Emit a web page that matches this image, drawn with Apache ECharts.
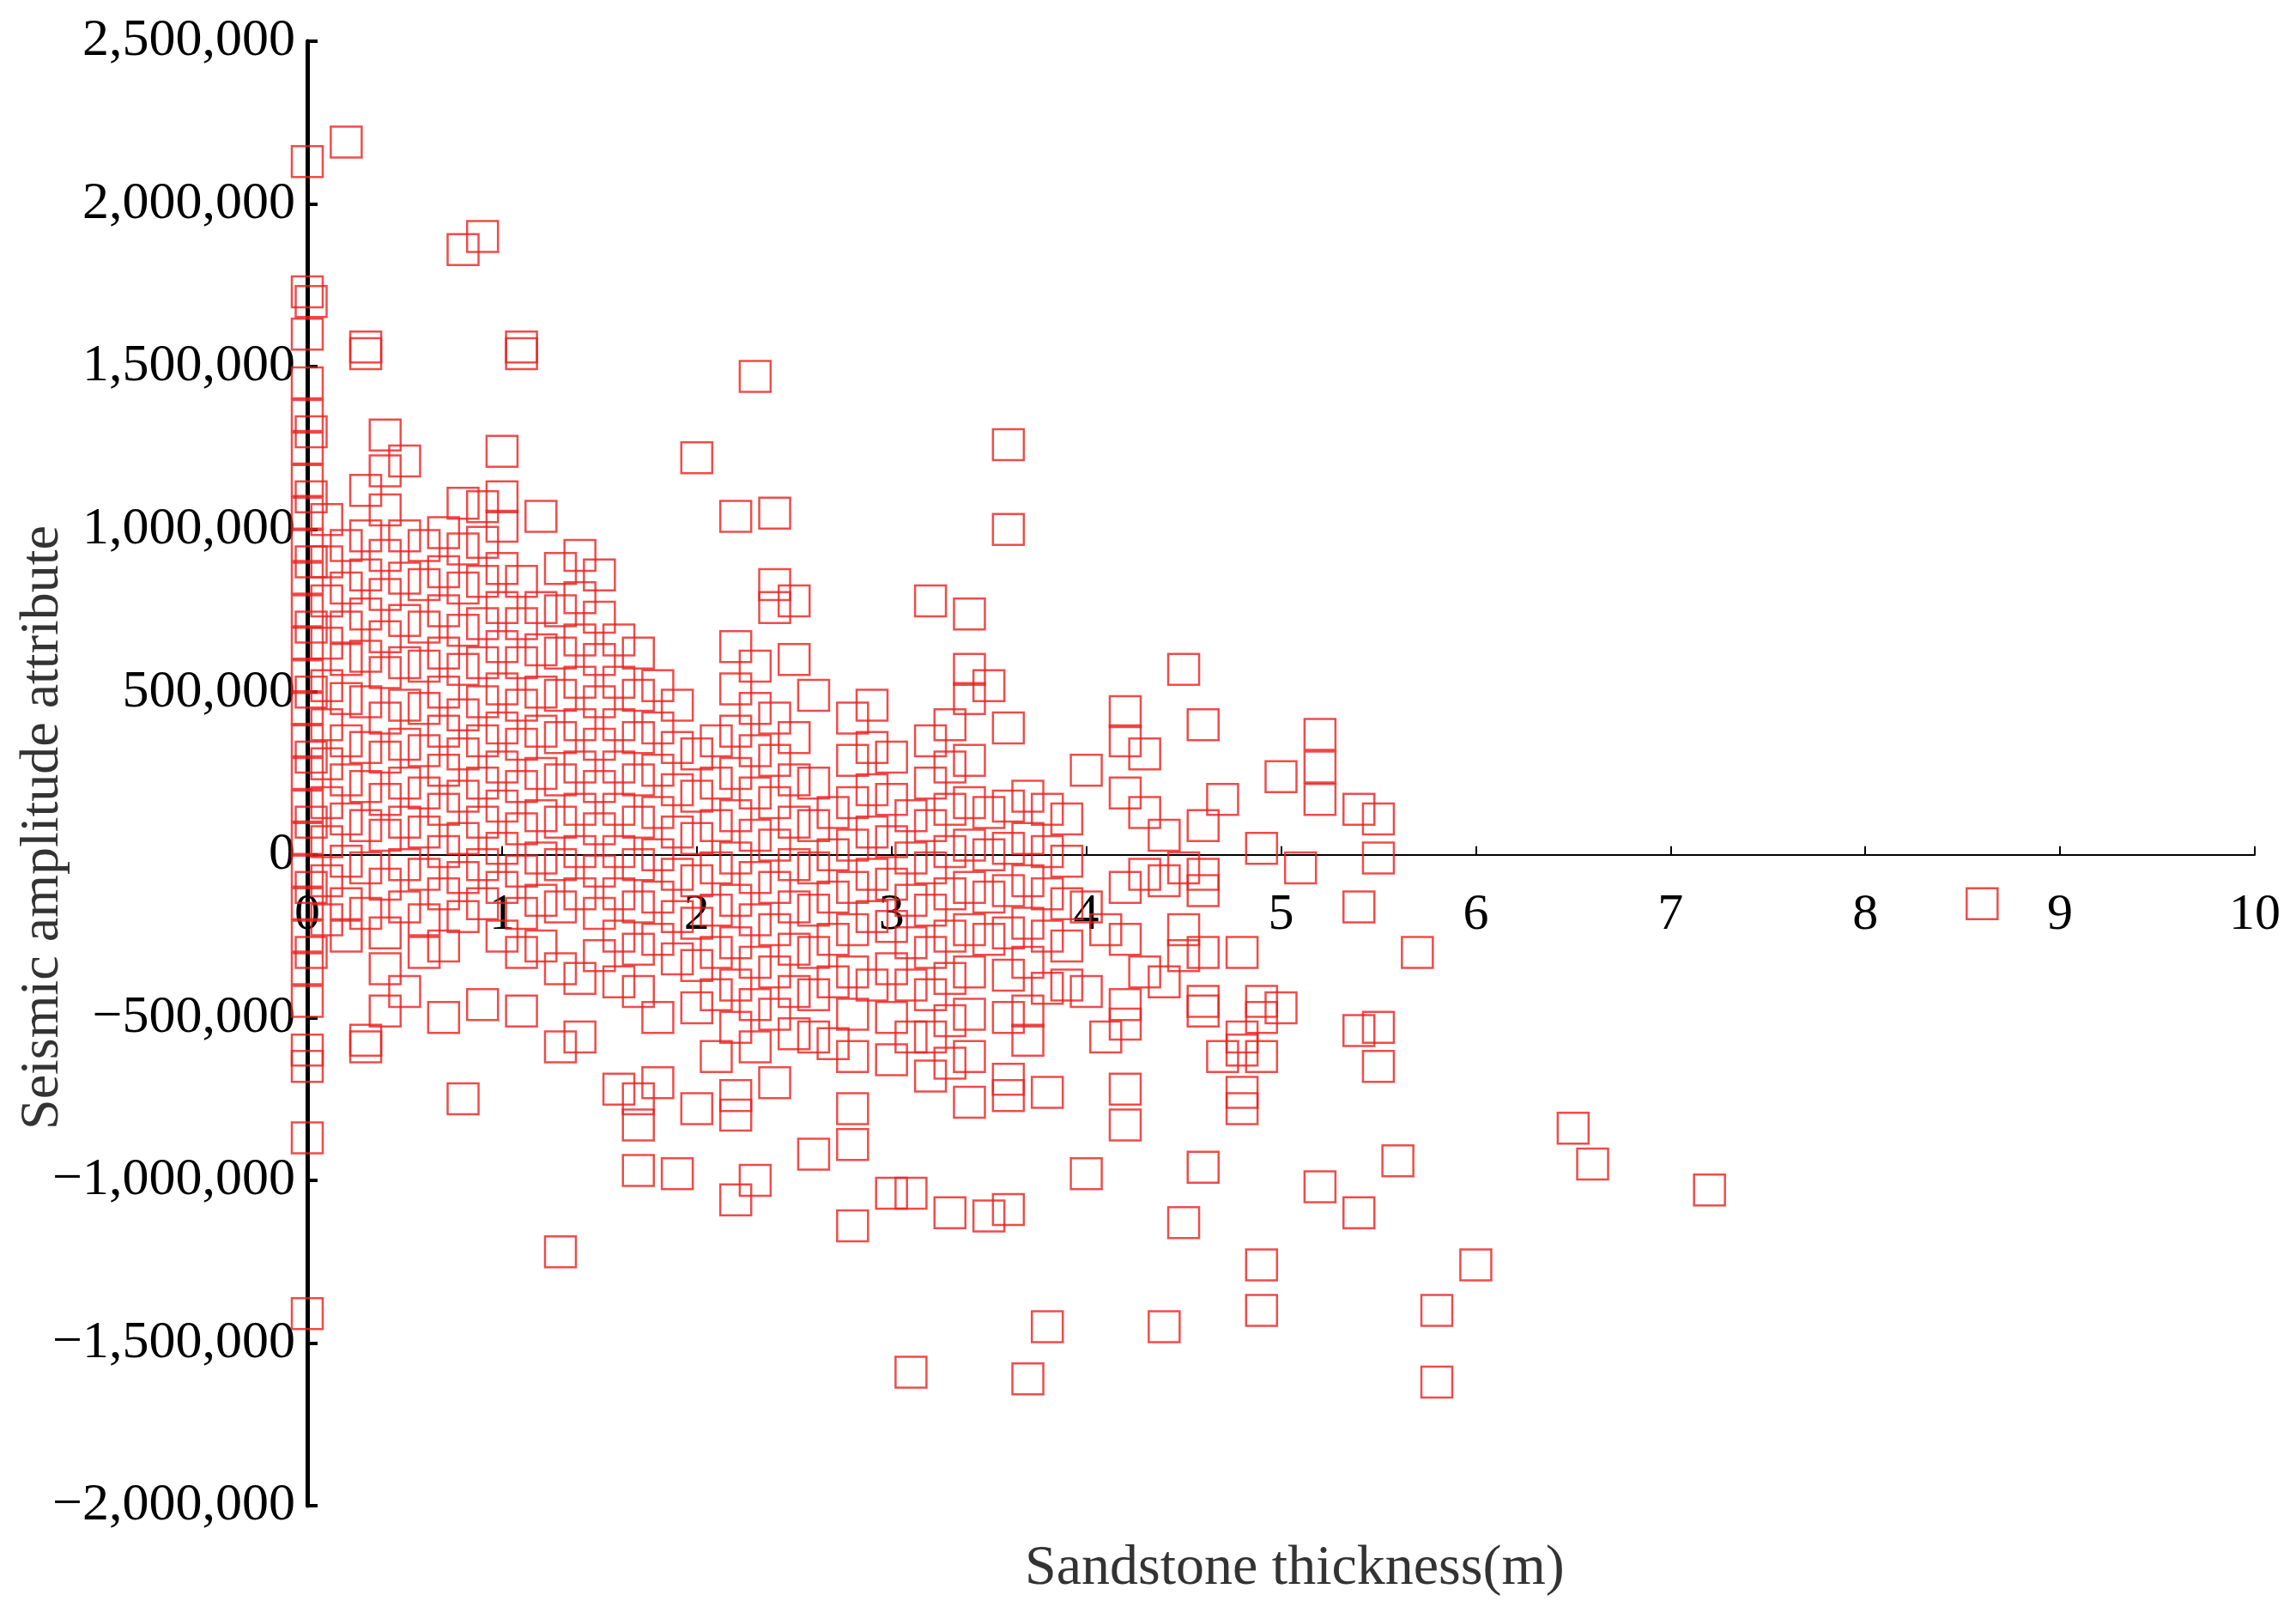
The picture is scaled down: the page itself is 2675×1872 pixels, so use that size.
<!DOCTYPE html>
<html>
<head>
<meta charset="utf-8">
<script src="https://cdn.jsdelivr.net/npm/echarts@6/dist/echarts.min.js"></script>
<style>
  html, body { margin: 0; padding: 0; background: #fff; }
  #chart { width: 2675px; height: 1872px; }
</style>
</head>
<body>
<div id="chart"></div>
<script>
// Sandstone thickness (m) and the amplitudes (in thousands) read at that thickness
var thickness = [0, 0.02, 0.1, 0.2, 0.3, 0.4, 0.5, 0.6, 0.7, 0.8, 0.9, 1.0, 1.1, 1.2, 1.3, 1.4, 1.5,
  1.6, 1.7, 1.8, 1.9, 2.0, 2.1, 2.2, 2.3, 2.4, 2.5, 2.6, 2.7, 2.8, 2.9, 3.0, 3.1, 3.2, 3.3, 3.4,
  3.5, 3.6, 3.7, 3.8, 3.9, 4.0, 4.1, 4.2, 4.3, 4.4, 4.5, 4.6, 4.7, 4.8, 4.9, 5.0, 5.1, 5.2, 5.4,
  5.5, 5.6, 5.7, 5.8, 6.0, 6.5, 6.6, 7.2, 8.6];
var amplitudeK = [
  [2130, 1730, 1600, 1450, 1350, 1250, 1150, 1050, 950, 850, 750, 650, 550, 450, 350, 250, 150, 50, -50, -150, -250, -350, -450, -600, -650, -870, -1410],
  [1700, 1300, 1100, 900, 700, 500, 300, 100, -100, -300],
  [1030, 900, 780, 650, 520, 400, 280, 160, 40, -80, -200],
  [2190, 950, 820, 700, 600, 480, 350, 230, 110, -20, -150, -250],
  [1560, 1540, 1120, 980, 860, 740, 610, 470, 330, 210, 90, -40, -180, -570, -590],
  [1290, 1180, 1060, 920, 800, 670, 560, 420, 300, 170, 60, -90, -240, -350, -480],
  [1210, 980, 850, 720, 590, 460, 340, 220, 100, -30, -160, -420],
  [950, 830, 700, 580, 450, 320, 190, 70, -60, -200, -300],
  [990, 870, 750, 620, 500, 380, 260, 140, 10, -120, -280, -500],
  [1860, 1080, 940, 820, 690, 570, 430, 310, 180, 50, -70, -190, -750],
  [1900, 1070, 960, 840, 710, 590, 470, 350, 220, 100, -30, -150, -460],
  [1240, 1100, 1010, 880, 760, 640, 510, 390, 270, 150, 20, -100, -250],
  [1560, 1540, 840, 710, 590, 460, 340, 210, 80, -50, -180, -300, -480],
  [1040, 760, 630, 500, 380, 250, 120, -10, -140, -280],
  [880, 750, 620, 490, 360, 230, 100, -30, -160, -350, -590, -1220],
  [920, 790, 660, 530, 400, 270, 140, 10, -120, -380, -560],
  [860, 730, 600, 470, 340, 210, 80, -50, -180, -310],
  [660, 530, 400, 270, 140, 10, -120, -250, -390, -720],
  [620, 490, 360, 230, 100, -30, -160, -290, -420, -750, -830, -970],
  [520, 390, 260, 130, 0, -130, -260, -500, -700],
  [460, 330, 200, 70, -60, -190, -320, -980],
  [1220, 310, 180, 50, -80, -210, -340, -470, -780],
  [350, 220, 90, -40, -170, -300, -430, -620],
  [1040, 640, 510, 380, 250, 120, -10, -140, -270, -400, -530, -740, -800, -1060],
  [1470, 580, 450, 320, 190, 60, -70, -200, -330, -460, -590, -1000],
  [1050, 830, 760, 420, 290, 160, 30, -100, -230, -360, -490, -700],
  [780, 600, 360, 230, 100, -30, -160, -290, -420, -550],
  [490, 220, 90, -40, -170, -300, -430, -560, -920],
  [130, 0, -130, -260, -390, -580],
  [420, 290, 160, 30, -100, -230, -360, -490, -620, -780, -890, -1140],
  [460, 330, 200, 70, -60, -190, -400],
  [300, 170, 40, -90, -220, -350, -500, -630, -1040],
  [120, -10, -140, -270, -400, -560, -1040, -1590],
  [780, 350, 220, 90, -40, -170, -300, -430, -560, -680],
  [400, 270, 140, 10, -120, -250, -380, -510, -640, -1100],
  [740, 570, 480, 290, 160, 30, -100, -230, -360, -490, -620, -760],
  [520, 130, 0, -130, -260, -1110],
  [1260, 1000, 390, 150, 20, -110, -240, -370, -500, -690, -740, -1090],
  [180, 50, -80, -210, -330, -480, -570, -1610],
  [140, 10, -120, -250, -410, -730, -1450],
  [110, -20, -150, -280, -400],
  [260, -160, -420, -980],
  [-230, -560],
  [440, 350, 190, -100, -260, -460, -520, -720, -830],
  [310, 130, -60, -360],
  [60, -80, -390, -1450],
  [570, -40, -230, -310, -1130],
  [400, 90, -60, -110, -300, -450, -480, -960],
  [170, -620],
  [-300, -560, -600, -730, -780],
  [20, -450, -500, -620, -1260, -1400],
  [240, -470],
  [-40],
  [370, 270, 170, -1020],
  [140, -160, -540, -1100],
  [110, -10, -530, -650],
  [-940],
  [-300],
  [-1400, -1620],
  [-1260],
  [-840],
  [-950],
  [-1030],
  [-150]
];
var yTicks = [-2000000, 2500000, 500000];

(function() {
    var myChart = echarts.init(document.getElementById('chart'));

    var points = [];
    for (var i = 0; i < thickness.length; i++) {
        for (var j = 0; j < amplitudeK[i].length; j++) {
            points.push([thickness[i], amplitudeK[i][j] * 1000]);
        }
    }

    var font = 'Liberation Serif';
    var gridTop = 48, gridBottom = 118, height = 1872;
    // 把 x 轴整体挪到 y=0 的位置（onZero 在 v6 里标签仍在底部）
    var plotH = height - gridTop - gridBottom;
    var zeroOffset = -plotH * (0 - yTicks[0]) / (yTicks[1] - yTicks[0]);

    var option = {
        backgroundColor: '#fff',
        animation: false,
        grid: { left: 358, right: 48, top: gridTop, bottom: gridBottom, containLabel: false, outerBoundsMode: 'none' },
        xAxis: {
            type: 'value',
            min: 0,
            max: 10,
            interval: 1,
            position: 'bottom',
            offset: zeroOffset,
            axisLine: { onZero: false, lineStyle: { color: '#000', width: 2 } },
            axisTick: { inside: true, length: 10, lineStyle: { color: '#000', width: 2 } },
            axisLabel: { margin: 40, color: '#000', fontFamily: font, fontSize: 60 },
            splitLine: { show: false }
        },
        yAxis: {
            type: 'value',
            min: yTicks[0],
            max: yTicks[1],
            interval: yTicks[2],
            axisLine: { lineStyle: { color: '#000', width: 5 } },
            axisTick: { inside: true, length: 12, lineStyle: { color: '#000', width: 4 } },
            axisLabel: {
                margin: 14,
                color: '#000',
                fontFamily: font,
                fontSize: 62,
                formatter: function(v) {
                    return v.toLocaleString('en-US').replace('-', '\u2212');
                }
            },
            splitLine: { show: false }
        },
        graphic: [{
            type: 'text',
            left: 1194,
            top: 1795,
            style: {
                text: 'Sandstone thickness(m)',
                fill: '#333',
                font: '66px "Liberation Serif"'
            }
        }, {
            // y 轴标题，竖排
            type: 'text',
            x: 50,
            y: 964,
            rotation: Math.PI / 2,
            style: {
                text: 'Seismic amplitude attribute',
                fill: '#333',
                font: '64px "Liberation Serif"',
                align: 'center',
                verticalAlign: 'middle'
            }
        }],
        series: [{
            type: 'scatter',
            symbol: 'rect',
            symbolSize: 36,
            itemStyle: {
                color: 'rgba(0,0,0,0)',
                borderColor: '#e8201e',
                borderWidth: 2.5
            },
            data: points
        }]
    };

    myChart.setOption(option);
})();
</script>
</body>
</html>
